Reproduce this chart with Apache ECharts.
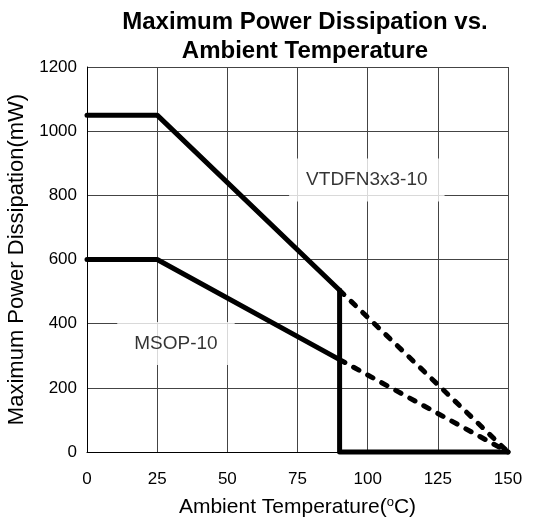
<!DOCTYPE html>
<html>
<head>
<meta charset="utf-8">
<script src="https://cdn.jsdelivr.net/npm/echarts@6/dist/echarts.min.js"></script>
<style>html,body{margin:0;padding:0;background:#fff}#c{width:534px;height:523px}</style>
</head>
<body>
<div id="c"></div>
<script>
// Data
const xTicks = [0, 25, 50, 75, 100, 125, 150];
const yTicks = [0, 200, 400, 600, 800, 1000, 1200];
const solidTemps = [0, 25, 90];
const vtdfnSolid = [1050, 1050, 504];
const msopSolid = [600, 600, 288];
const dashTemps = [90, 150];
const vtdfnDash = [504, 0];
const msopDash = [288, 0];
const cutoffTemps = [90, 90, 150];
const cutoffPower = [504, 0, 0];
const labelNames = ['VTDFN3x3-10', 'MSOP-10'];
const labelTemps = [99.7, 31.7];
const labelPower = [848, 338];

const zip = (xs, ys) => xs.map((x, i) => [x, ys[i]]);
const FONT = '"Liberation Sans", Arial, sans-serif';

const solidStyle = { color: '#000', width: 5, cap: 'round', join: 'round' };
const dashStyle = { color: '#000', width: 5, type: [6, 10], cap: 'round', join: 'round' };

const chart = echarts.init(document.getElementById('c'), null, { renderer: 'canvas' });
chart.setOption({
  animation: false,
  backgroundColor: '#fff',
  title: {
    text: 'Maximum Power Dissipation vs.\nAmbient Temperature',
    left: 300, top: 3, textAlign: 'center',
    textStyle: { fontFamily: FONT, fontWeight: 'bold', fontSize: 24, color: '#000', lineHeight: 29 }
  },
  grid: { left: 87, right: 26, top: 67, bottom: 71, containLabel: false, outerBoundsMode: 'none' },
  xAxis: {
    type: 'value', min: 0, max: 150, interval: 25,
    name: 'Ambient Temperature({sup|o}C)',
    nameLocation: 'middle', nameGap: 44,
    nameTextStyle: { fontFamily: FONT, fontSize: 21, color: '#000',
      rich: { sup: { fontFamily: FONT, fontSize: 13, verticalAlign: 'top', padding: [0, 0, 9, 0], color: '#000' } } },
    axisLine: { show: true, lineStyle: { color: '#000', width: 1 } },
    axisTick: { show: false },
    axisLabel: { fontFamily: FONT, fontSize: 17, color: '#000', margin: 19, formatter: v => String(v) },
    splitLine: { show: true, lineStyle: { color: '#444', width: 1 } }
  },
  yAxis: {
    type: 'value', min: 0, max: 1200, interval: 200,
    name: 'Maximum Power Dissipation(mW)',
    nameLocation: 'middle', nameGap: 59,
    nameTextStyle: { fontFamily: FONT, fontSize: 22, color: '#000' },
    axisLine: { show: true, lineStyle: { color: '#000', width: 1 } },
    axisTick: { show: false },
    axisLabel: { fontFamily: FONT, fontSize: 17, color: '#000', margin: 10, formatter: v => String(v) },
    splitLine: { show: true, lineStyle: { color: '#444', width: 1 } }
  },
  series: [
    { type: 'line', data: zip(solidTemps, vtdfnSolid), symbol: 'none', lineStyle: solidStyle, z: 5, clip: false },
    { type: 'line', data: zip(dashTemps, vtdfnDash), symbol: 'none', lineStyle: dashStyle, z: 4, clip: false },
    { type: 'line', data: zip(solidTemps, msopSolid), symbol: 'none', lineStyle: solidStyle, z: 5, clip: false },
    { type: 'line', data: zip(dashTemps, msopDash), symbol: 'none', lineStyle: dashStyle, z: 4, clip: false },
    { type: 'line', data: zip(cutoffTemps, cutoffPower), symbol: 'none', lineStyle: solidStyle, z: 6, clip: false },
    {
      type: 'scatter', symbolSize: 0, z: 3,
      data: labelNames.map((n, i) => ({ value: [labelTemps[i], labelPower[i]], name: n })),
      label: {
        show: true, position: 'inside', formatter: p => p.name,
        fontFamily: FONT, fontSize: 19, color: '#000',
        backgroundColor: '#fff', padding: [12, 17]
      }
    }
  ]
});
</script>
</body>
</html>
